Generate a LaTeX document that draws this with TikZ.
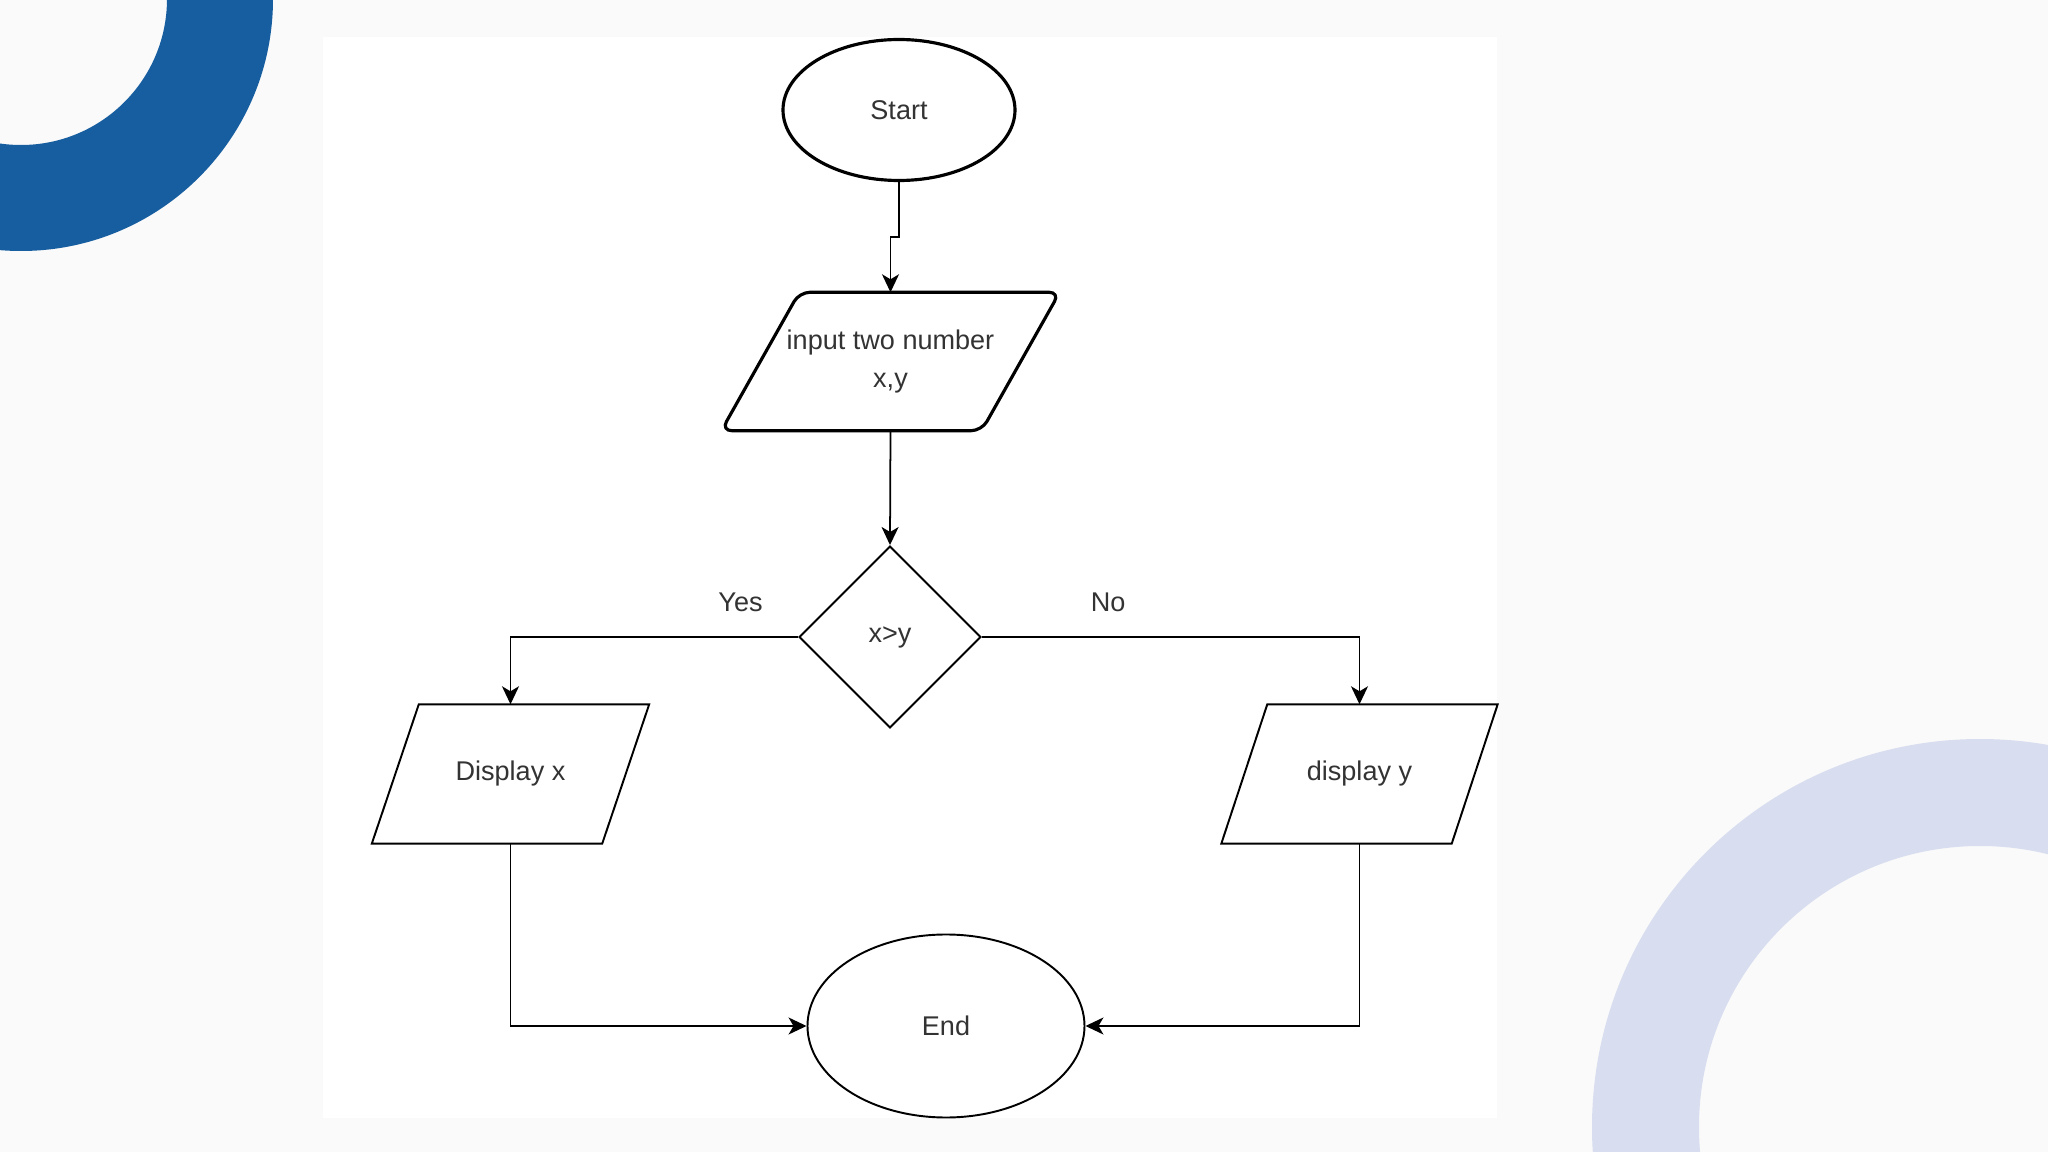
\documentclass[tikz,border=0pt]{standalone}
\usepackage{fontspec}
\setmainfont{Liberation Sans}
\usetikzlibrary{shapes.geometric,arrows.meta}
\definecolor{ringblue}{RGB}{22,94,159}
\definecolor{ringlilac}{RGB}{216,222,240}
\definecolor{pagebg}{RGB}{250,250,250}
\definecolor{txtgray}{RGB}{51,51,51}
\tikzstyle{term} = [ellipse, draw=black, minimum width=2.32cm, minimum height=1.41cm, inner sep=0pt, text=txtgray]
\tikzstyle{io} = [rectangle, inner sep=0pt, text=txtgray, align=center, minimum width=2.29cm, minimum height=1.38cm]
\tikzstyle{decision} = [diamond, draw=black, minimum size=1.82cm, inner sep=0pt, text=txtgray, line width=0.55pt]
\tikzstyle{arrow} = [line width=0.5pt,->]
\tikzstyle{lbl} = [text=txtgray]
% slanted outline round an io node: #1 node, #2 half slant, #3 draw options
\newcommand{\slantbox}[3]{\draw[#3] ([xshift=#2]#1.north west) -- ([xshift=#2]#1.north east) -- ([xshift=-#2]#1.south east) -- ([xshift=-#2]#1.south west) -- cycle;}

\begin{document}
\begin{tikzpicture}[font=\fontsize{7.7}{10.8}\selectfont]
    \tikzset{>={Stealth[length=0.18cm,width=0.17cm,inset=0.05cm]}}
    % page and corner rings
    \fill[pagebg] (0,0) rectangle (20.48,-11.52);
    \useasboundingbox (0,0) rectangle (20.48,-11.52);
    \fill[white] (3.23,-0.37) rectangle (14.97,-11.18);
    \begin{scope}
    \clip (0,0) rectangle (20.48,-11.52);
    \fill[ringblue,even odd rule] (0.21,0.01) circle (2.52) (0.21,0.01) circle (1.46);
    \fill[ringlilac,even odd rule] (19.80,-11.27) circle (3.88) (19.80,-11.27) circle (2.81);
    \end{scope}

    \node[term, line width=0.9pt] (start) at (8.99,-1.10) {Start};
    \node[io, minimum width=2.59cm, minimum height=1.37cm] (input) at (8.905,-3.615) {input two number\\x,y};
    \node[decision] (dec) at (8.90,-6.37) {x>y};
    \node[io] (dispx) at (5.105,-7.74) {Display x};
    \node[io] (dispy) at (13.595,-7.74) {display y};
    \node[term, line width=0.55pt, minimum width=2.77cm, minimum height=1.83cm] (end) at (9.46,-10.26) {End};

    \slantbox{input}{0.39cm}{line width=0.9pt, rounded corners=3pt}
    \slantbox{dispx}{0.235cm}{line width=0.55pt}
    \slantbox{dispy}{0.23cm}{line width=0.55pt}

    \draw[arrow] (start.south) -- ++(0,-0.55) -| (input.north);
    \draw[arrow] (input.south) -- (dec.north);
    \draw[arrow] (dec.west) -| node[lbl, pos=0.1, yshift=0.35cm] {Yes} (dispx.north);
    \draw[arrow] (dec.east) -| node[lbl, pos=0.167, yshift=0.35cm] {No} (dispy.north);
    \draw[arrow] (dispx.south) |- (end.west);
    \draw[arrow] (dispy.south) |- (end.east);
\end{tikzpicture}
\end{document}
